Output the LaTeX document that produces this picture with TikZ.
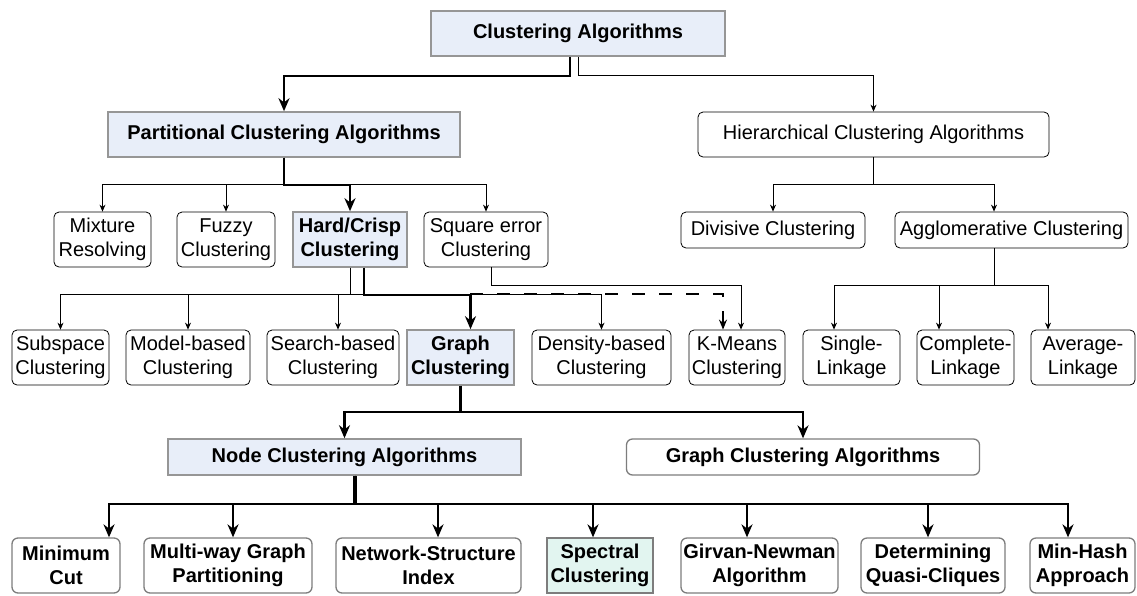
\documentclass[tikz,border=0pt]{standalone}
\usepackage{fontspec}
\setmainfont{Liberation Sans}
\usetikzlibrary{positioning, arrows.meta}
\definecolor{keyblue}{RGB}{232,238,249}
\definecolor{keymint}{RGB}{226,245,240}
\definecolor{keyedge}{RGB}{150,150,150}
\definecolor{leafedge}{RGB}{125,125,125}
\tikzstyle{leaf} = [draw, rectangle, rounded corners=5pt, line width=0.8pt,
    align=center, inner sep=2pt, font=\fontsize{20}{24}\selectfont]
\tikzstyle{keybox} = [draw=keyedge, fill=keyblue, rectangle, line width=1.6pt,
    align=center, inner sep=2pt, font=\fontsize{20}{24}\selectfont\bfseries]
\tikzstyle{method} = [leaf, draw=leafedge, line width=1.3pt, rounded corners=6pt,
    font=\fontsize{20}{24}\selectfont\bfseries]
\tikzstyle{headline} = [minimum height=45pt]
\tikzstyle{oneline} = [minimum height=36pt]
\tikzstyle{twoline} = [minimum height=55pt]
\tikzstyle{wire} = [-{Stealth[length=7pt, width=6pt]}, line width=0.8pt]
\tikzstyle{trunk} = [-{Stealth[length=13pt, width=11pt]}, line width=2.2pt]
\tikzstyle{hint} = [-{Stealth[length=10pt, width=8pt]}, line width=1.8pt,
    dash pattern=on 13pt off 14pt]

\begin{document}
\begin{tikzpicture}[x=1pt, y=-1pt, node distance=120pt]
        \useasboundingbox (0,0) rectangle (1137,595);
        \fill[white] (0,0) rectangle (1137,595);

        % top two levels
        \node[keybox, headline, minimum width=294pt] (root) at (578,33.5) {Clustering Algorithms};
        \node[keybox, headline, minimum width=352pt] (part) at (284,134.5) {Partitional Clustering Algorithms};
        \node[leaf, headline, right of=part, node distance=589.5pt, minimum width=351pt] (hier) {Hierarchical Clustering Algorithms};

        % families
        \node[leaf, twoline, minimum width=97pt] (mix) at (102.5,239.5) {Mixture\\Resolving};
        \node[leaf, twoline, right of=mix, node distance=123.5pt, minimum width=98pt] (fuzzy) {Fuzzy\\Clustering};
        \node[keybox, twoline, right of=fuzzy, node distance=124pt, minimum width=114pt] (hard) {Hard/Crisp\\Clustering};
        \node[leaf, twoline, right of=hard, node distance=136pt, minimum width=124pt] (square) {Square error\\Clustering};
        \node[leaf, oneline, minimum width=184pt] (divisive) at (773,230) {Divisive Clustering};
        \node[leaf, oneline, right of=divisive, node distance=238.5pt, minimum width=233pt] (agglo) {Agglomerative Clustering};

        % methods
        \node[leaf, twoline, minimum width=97pt] (subspace) at (60.5,357.5) {Subspace\\Clustering};
        \node[leaf, twoline, right of=subspace, node distance=127.5pt, minimum width=124pt] (model) {Model-based\\Clustering};
        \node[leaf, twoline, right of=model, node distance=145pt, minimum width=132pt] (search) {Search-based\\Clustering};
        \node[keybox, twoline, right of=search, node distance=127.5pt, minimum width=107pt] (graph) {Graph\\Clustering};
        \node[leaf, twoline, right of=graph, node distance=141pt, minimum width=139pt] (density) {Density-based\\Clustering};
        \node[leaf, twoline, right of=density, node distance=135.5pt, minimum width=96pt] (kmeans) {K-Means\\Clustering};
        \node[leaf, twoline, right of=kmeans, node distance=114.5pt, minimum width=97pt] (single) {Single-\\Linkage};
        \node[leaf, twoline, right of=single, node distance=114pt, minimum width=97pt] (complete) {Complete-\\Linkage};
        \node[leaf, twoline, right of=complete, node distance=117.5pt, minimum width=104pt] (average) {Average-\\Linkage};

        % graph clustering
        \node[keybox, oneline, minimum width=353pt] (nodealg) at (344.5,457) {Node Clustering Algorithms};
        \node[method, oneline, right of=nodealg, node distance=458.5pt, minimum width=353pt] (graphalg) {Graph Clustering Algorithms};

        \node[method, twoline, minimum width=108pt] (mincut) at (66,565.5) {Minimum\\Cut};
        \node[method, twoline, right of=mincut, node distance=162pt, minimum width=168pt] (multi) {Multi-way Graph\\Partitioning};
        \node[method, twoline, right of=multi, node distance=200.5pt, minimum width=185pt] (network) {Network-Structure\\Index};
        \node[keybox, twoline, fill=keymint, draw=leafedge, line width=1.3pt, right of=network, node distance=171.5pt, minimum width=106pt] (spectral) {Spectral\\Clustering};
        \node[method, twoline, right of=spectral, node distance=159.5pt, minimum width=157pt] (girvan) {Girvan-Newman\\Algorithm};
        \node[method, twoline, right of=girvan, node distance=173.5pt, minimum width=144pt] (quasi) {Determining\\Quasi-Cliques};
        \node[method, twoline, right of=quasi, node distance=149.5pt, minimum width=105pt] (minhash) {Min-Hash\\Approach};

        % connectors
        \draw[trunk] ([xshift=-8pt]root.south) -- ++(0,19) -| (part.north);
        \draw[wire] (root.south) -- ++(0,19) -| (hier.north);

        \foreach \leaf in {mix, fuzzy, square}
            \draw[wire] (part.south) -- ++(0,27) -| (\leaf.north);
        \draw[trunk] (part.south) -- ++(0,27) -| (hard.north);
        \foreach \leaf/\dx in {divisive/0, agglo/-17.5}
            \draw[wire] (hier.south) -- ++(0,27) -| ([xshift=\dx pt]\leaf.north);

        \foreach \leaf/\dx in {subspace/0, model/0, search/5, density/0}
            \draw[wire] (hard.south) -- ++(0,27) -| ([xshift=\dx pt]\leaf.north);
        \coordinate (fork) at (470,294);
        \draw[hint] (fork) -| ([xshift=-14pt]kmeans.north);
        \draw[trunk] ([xshift=14pt]hard.south) -- ++(0,27) -| ([xshift=10pt]graph.north);
        \draw[wire] ([xshift=5pt]square.south) -- ++(0,18) -| ([xshift=4pt]kmeans.north);
        \foreach \leaf/\dx in {single/-17.5, complete/-26.5, average/-35}
            \draw[wire] ([xshift=-17.5pt]agglo.south) -- ++(0,37) -| ([xshift=\dx pt]\leaf.north);

        \foreach \leaf in {nodealg, graphalg}
            \draw[trunk] (graph.south) -- ++(0,26) -| (\leaf.north);
        \foreach \leaf/\dx in {mincut/43, multi/5, network/9.5, spectral/-7, girvan/-12.5, quasi/-5, minhash/-14.5}
            \draw[trunk] ([xshift=10.5pt]nodealg.south) -- ++(0,28) -| ([xshift=\dx pt]\leaf.north);
        \draw[line width=4pt] ([xshift=10.5pt]nodealg.south) -- ++(0,28);
    \end{tikzpicture}
\end{document}
